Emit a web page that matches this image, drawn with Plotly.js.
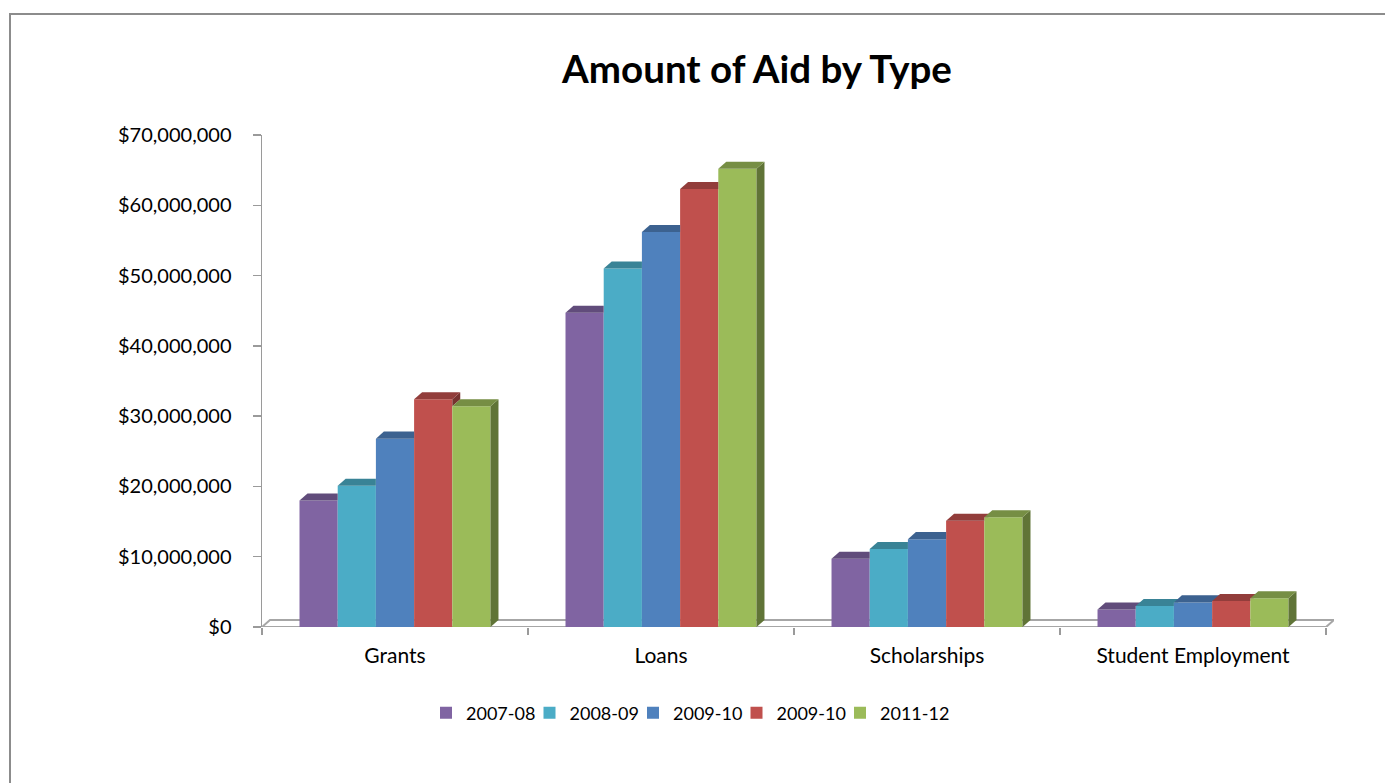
<!DOCTYPE html>
<html>
<head>
<meta charset="utf-8">
<script src="https://cdn.plot.ly/plotly-3.0.1.min.js"></script>
<style>
  html, body { margin:0; padding:0; background:#ffffff; }
  #wrap { position:relative; width:1385px; height:783px; overflow:hidden; }
  #chart { position:absolute; left:0; top:0; width:1385px; height:783px; }
  #frame { position:absolute; left:9px; top:13px; width:1400px; height:800px;
           border:2px solid #8c8c8c; box-sizing:border-box; pointer-events:none; }
</style>
</head>
<body>
<div id="wrap">
  <div id="chart"></div>
  <div id="frame"></div>
</div>
<script>
// ---- data ----
const categories = ['Grants', 'Loans', 'Scholarships', 'Student Employment'];
const seriesNames = ['2007-08', '2008-09', '2009-10', '2009-10', '2011-12'];
const values2007_08 = [18.0e6, 44.7e6, 9.7e6, 2.5e6];
const values2008_09 = [20.1e6, 51.0e6, 11.1e6, 3.0e6];
const values2009_10 = [26.8e6, 56.2e6, 12.5e6, 3.5e6];
const values2009_10b = [32.4e6, 62.3e6, 15.1e6, 3.7e6];
const values2011_12 = [31.4e6, 65.2e6, 15.6e6, 4.1e6];
const seriesValues = [values2007_08, values2008_09, values2009_10, values2009_10b, values2011_12];

// ---- styling ----
const frontColors = ['#8064A2', '#4BACC6', '#4F81BD', '#C0504D', '#9BBB59'];
const FONT = 'Lato, "Open Sans", "DejaVu Sans", sans-serif';
const bargap = 0.282;
const nSeries = seriesValues.length;
const barW = (1 - bargap) / nSeries;
const depthX = 0.030;   // 3D depth offset, x units
const depthY = 1.0e6;   // 3D depth offset, y units

function shade(hex, f) {
  const n = parseInt(hex.slice(1), 16);
  const r = Math.round(((n >> 16) & 255) * f);
  const g = Math.round(((n >> 8) & 255) * f);
  const b = Math.round((n & 255) * f);
  return 'rgb(' + r + ',' + g + ',' + b + ')';
}

const xs = categories.map((c, i) => i);
const traces = [];

// front faces: real bar traces
seriesValues.forEach((vals, i) => {
  traces.push({
    type: 'bar', name: seriesNames[i], x: xs, y: vals,
    marker: { color: frontColors[i], line: { width: 0 } },
    hoverinfo: 'x+y+name'
  });
});

// top and side faces, derived from the same values
function poly(px, py, color) {
  traces.push({
    type: 'scatter', mode: 'lines', x: px.concat([px[0]]), y: py.concat([py[0]]),
    fill: 'toself', fillcolor: color, line: { width: 0, color: 'rgba(0,0,0,0)' },
    hoverinfo: 'skip', showlegend: false
  });
}

categories.forEach((c, ci) => {
  for (let i = 0; i < nSeries; i++) {
    const v = seriesValues[i][ci];
    const xl = ci - 0.5 * (1 - bargap) + i * barW;
    const xr = xl + barW;
    const hasNext = i < nSeries - 1;
    const vn = hasNext ? seriesValues[i + 1][ci] : null;
    const sideCol = shade(frontColors[i], 0.62);
    const topCol = shade(frontColors[i], 0.76);
    // side face
    if (!hasNext) {
      poly([xr, xr, xr + depthX, xr + depthX], [0, v, v + depthY, depthY], sideCol);
    } else if (vn < v) {
      poly([xr, xr, xr + depthX, xr + depthX], [vn, v, v + depthY, vn + depthY], sideCol);
    }
    // top face
    if (!hasNext || vn <= v) {
      poly([xl, xr, xr + depthX, xl + depthX], [v, v, v + depthY, v + depthY], topCol);
    } else if (vn >= v + depthY) {
      poly([xl, xr, xr, xl + depthX], [v, v, v + depthY, v + depthY], topCol);
    } else {
      const t = (vn - v) / depthY;
      poly([xl, xr, xr, xr + depthX * t, xr + depthX, xl + depthX],
           [v, v, vn, vn, v + depthY, v + depthY], topCol);
    }
  }
});

// empty legend spacer so the last legend label is not clipped
traces.push({
  type: 'scatter', mode: 'lines', x: [null], y: [null], name: ' ',
  line: { width: 0, color: 'rgba(0,0,0,0)' }, showlegend: true, hoverinfo: 'skip'
});

const xMin = -0.5, xMax = categories.length - 0.5;
const layout = {
  width: 1385, height: 783,
  margin: { l: 262, r: 51, t: 135, b: 156 },
  paper_bgcolor: '#ffffff', plot_bgcolor: 'rgba(0,0,0,0)',
  barmode: 'group', bargap: bargap, bargroupgap: 0,
  showlegend: true,
  title: {
    text: 'Amount of Aid by Type',
    font: { family: FONT, size: 38.5, color: '#000000', weight: 700 },
    x: 757 / 1385, xanchor: 'center', xref: 'container',
    y: 1 - 70 / 783, yanchor: 'middle', yref: 'container'
  },
  xaxis: {
    range: [xMin, xMax + depthX],
    tickmode: 'array', tickvals: xs, ticktext: categories,
    ticks: '', showgrid: false, zeroline: false, showline: false,
    tickfont: { family: FONT, size: 21, color: '#000000' },
    ticklabelstandoff: 14,
    minor: {
      tickmode: 'array', tickvals: [-0.5, 0.5, 1.5, 2.5, 3.5],
      ticks: 'outside', ticklen: 7, tickwidth: 1.5, tickcolor: '#9a9a9a', showgrid: false
    },
    fixedrange: true
  },
  yaxis: {
    range: [0, 70e6], dtick: 10e6, tick0: 0,
    tickprefix: '$', tickformat: ',d',
    ticks: 'outside', ticklen: 8, tickwidth: 1.5, tickcolor: '#9a9a9a',
    showline: true, linecolor: '#9a9a9a', linewidth: 1.5,
    showgrid: false, zeroline: false,
    tickfont: { family: FONT, size: 20, color: '#000000' },
    ticklabelstandoff: 17,
    fixedrange: true
  },
  legend: {
    orientation: 'h', x: (426 - 262) / 1072, xanchor: 'left',
    y: (627 - 713) / 492, yanchor: 'middle',
    font: { family: FONT, size: 18, color: '#000000' },
    entrywidth: 58.5, entrywidthmode: 'pixels',
    traceorder: 'normal', bgcolor: 'rgba(0,0,0,0)'
  },
  shapes: [
    {
      type: 'path', xref: 'x', yref: 'y', layer: 'below',
      path: 'M' + xMin + ',0 L' + xMax + ',0 L' + (xMax + depthX) + ',' + depthY +
            ' L' + (xMin + depthX) + ',' + depthY + ' Z',
      line: { color: '#a6a6a6', width: 2 }, fillcolor: '#ffffff'
    }
  ]
};

Plotly.newPlot('chart', traces, layout, { displayModeBar: false, staticPlot: true });
</script>
</body>
</html>
